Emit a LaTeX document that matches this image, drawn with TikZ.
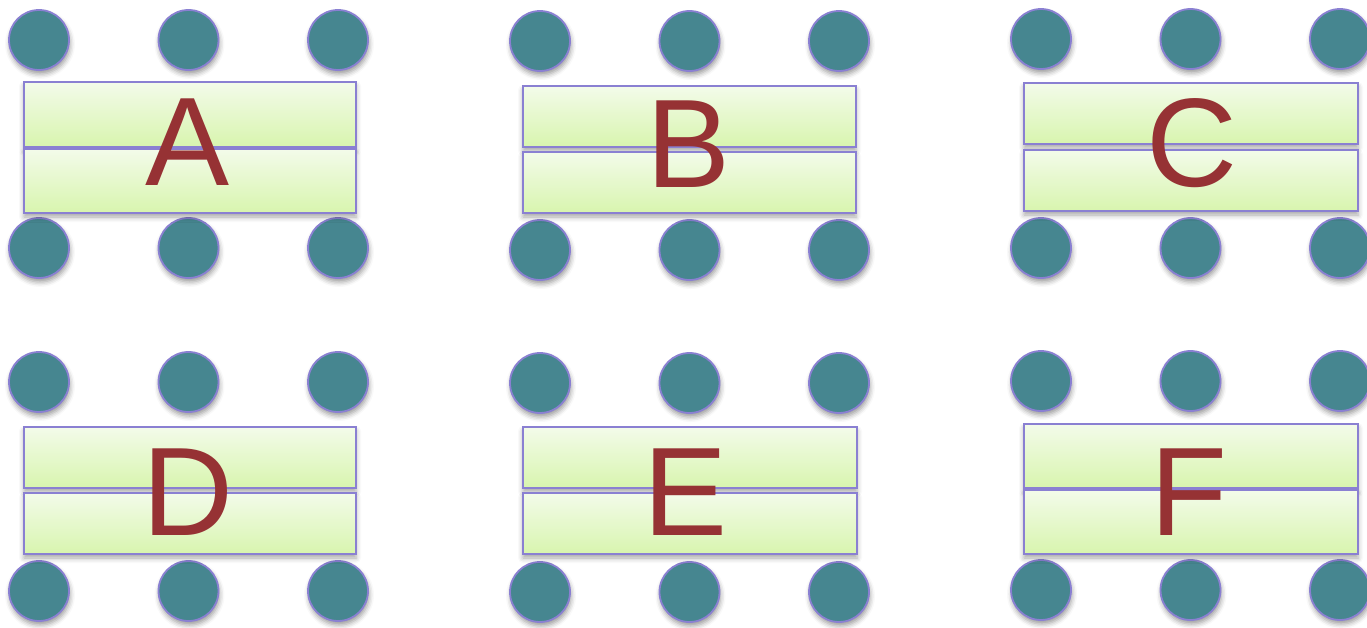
\documentclass[tikz,border=0pt]{standalone}
\usepackage{fontspec}
\setmainfont{Liberation Sans}
\usetikzlibrary{shadows.blur}
\definecolor{dotfill}{HTML}{468690}
\definecolor{edgec}{HTML}{8A80D2}
\definecolor{lettr}{HTML}{963234}
\definecolor{gtop}{HTML}{F3FBEA}
\definecolor{gbot}{HTML}{D8F5AE}
\begin{document}
\begin{tikzpicture}[x=1pt,y=-1pt,
  dotc/.style={circle,inner sep=0pt,minimum size=60pt,fill=dotfill,draw=edgec,line width=1.8pt,
    blur shadow={shadow xshift=1pt,shadow yshift=-4pt,shadow blur radius=5pt,shadow opacity=40}},
  bar/.style={rectangle,inner sep=0pt,draw=edgec,line width=1.8pt,top color=gtop,bottom color=gbot,
    blur shadow={shadow xshift=0pt,shadow yshift=-4pt,shadow blur radius=5pt,shadow opacity=35}},
  letter/.style={anchor=base,inner sep=0pt,text=lettr,font=\fontsize{126}{130}\selectfont}]
\useasboundingbox (0,0) rectangle (1367,627);
\foreach \L/\cx/\yt/\yb/\ra/\rb/\rc/\rd/\xl/\xr/\bl/\lx in {
  A/39/40/248/82/147/149/213/24/356/185/188,
  B/540/41/250/86/147/152/213/523/856/187/689,
  C/1041/39/248/83/144/150/211/1024/1358/186/1192,
  D/39/382/591/427/488/493/554/24/356/535/188,
  E/540/383/592/427/488/493/554/523/857/535/686,
  F/1041/381/590/424/488/490/554/1024/1358/535/1189}{
  \pgfmathsetmacro\w{\xr-\xl}
  \pgfmathsetmacro\ha{\rb-\ra}
  \pgfmathsetmacro\hb{\rd-\rc}
  \pgfmathsetmacro\mx{(\xl+\xr)/2}
  \pgfmathsetmacro\ma{(\ra+\rb)/2}
  \pgfmathsetmacro\mb{(\rc+\rd)/2}
  \foreach \i in {0,1,2}{
    \node[dotc] (\L t\i) at ({\cx+149.5*\i},\yt) {};
    \node[dotc] (\L b\i) at ({\cx+149.5*\i},\yb) {};
  }
  \node[bar,minimum width=\w pt,minimum height=\ha pt] (\L up) at (\mx,\ma) {};
  \node[bar,minimum width=\w pt,minimum height=\hb pt] (\L lo) at (\mx,\mb) {};
  \node[letter] (\L lab) at (\lx,\bl) {\L};
}
\end{tikzpicture}
\end{document}
